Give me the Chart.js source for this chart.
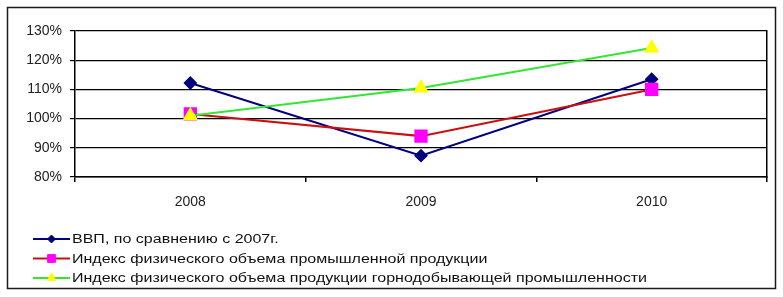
<!DOCTYPE html>
<html>
<head>
<meta charset="utf-8">
<script src="https://cdn.jsdelivr.net/npm/chart.js@4"></script>
<style>
  html, body { margin: 0; padding: 0; background: #fff; }
  #wrap { width: 783px; height: 297px; }
</style>
</head>
<body>
<div id="wrap"><canvas id="growthChart" width="783" height="297"></canvas></div>
<script>
// years on the x axis
const years = ['2008', '2009', '2010'];
// values in percent
const gdp = [112.2, 87.3, 113.5];
const industry = [101.6, 94.0, 110.0];
const mining = [101.0, 110.5, 124.2];
const seriesNames = [
    'ВВП, по сравнению с 2007г.',
    'Индекс физического объема промышленной продукции',
    'Индекс физического объема продукции горнодобывающей промышленности'
];
const yTicks = [80, 90, 100, 110, 120, 130];

const FONT = '"Liberation Sans", Arial, sans-serif';

// outer frame round the whole chart
const framePlugin = {
    id: 'frame',
    beforeDraw(chart) {
        const ctx = chart.ctx;
        ctx.save();
        ctx.fillStyle = '#fff';
        ctx.fillRect(0, 0, chart.width, chart.height);
        ctx.strokeStyle = '#1a1a1a';
        ctx.lineWidth = 1.5;
        ctx.strokeRect(7.5, 7.5, chart.width - 15, chart.height - 16);
        ctx.restore();
    }
};

// excel-like legend: line with marker, one series per row
const legendPlugin = {
    id: 'rowLegend',
    afterDraw(chart) {
        const ctx = chart.ctx;
        const top = chart.scales.x.bottom + 12;
        ctx.save();
        ctx.font = '12px ' + FONT;
        let longest = 0;
        chart.data.datasets.forEach(ds => {
            longest = Math.max(longest, ctx.measureText(ds.label).width);
        });
        const sx = 575 / longest;
        chart.data.datasets.forEach((ds, i) => {
            const y = top + i * 19.5;
            ctx.strokeStyle = ds.borderColor;
            ctx.lineWidth = 2;
            ctx.beginPath();
            ctx.moveTo(33, y);
            ctx.lineTo(70, y);
            ctx.stroke();
            ctx.fillStyle = ds.pointBackgroundColor;
            ctx.strokeStyle = ds.pointBorderColor;
            ctx.lineWidth = 1;
            Chart.helpers.drawPoint(ctx, {
                pointStyle: ds.pointStyle,
                rotation: 0,
                radius: ds.legendRadius,
                borderWidth: 1
            }, 51.5, y);
            ctx.save();
            ctx.translate(72, y);
            ctx.scale(sx, 1);
            ctx.fillStyle = '#111';
            ctx.textBaseline = 'middle';
            ctx.textAlign = 'left';
            ctx.fillText(ds.label, 0, 1);
            ctx.restore();
        });
        ctx.restore();
    }
};

const ctx = document.getElementById('growthChart').getContext('2d');
new Chart(ctx, {
    type: 'line',
    data: {
        labels: years,
        datasets: [{
            label: seriesNames[0],
            data: gdp,
            borderColor: '#000080',
            borderWidth: 2,
            pointStyle: 'rectRot',
            pointRadius: 5.5,
            pointBackgroundColor: '#000080',
            pointBorderColor: '#000080',
            legendRadius: 4,
            order: 2
        }, {
            label: seriesNames[1],
            data: industry,
            borderColor: '#c81010',
            borderWidth: 2,
            pointStyle: 'rect',
            pointRadius: 8,
            pointBackgroundColor: '#ff00ff',
            pointBorderColor: '#ff00ff',
            legendRadius: 5.5,
            order: 1
        }, {
            label: seriesNames[2],
            data: mining,
            borderColor: '#33e633',
            borderWidth: 2,
            pointStyle: 'triangle',
            pointRadius: 7,
            pointBackgroundColor: '#ffff00',
            pointBorderColor: '#ffff00',
            legendRadius: 5,
            order: 0
        }]
    },
    options: {
        responsive: false,
        animation: false,
        events: [],
        layout: {
            padding: { left: 15, right: 16, top: 31, bottom: 70 }
        },
        plugins: {
            legend: { display: false },
            tooltip: { enabled: false }
        },
        scales: {
            x: {
                offset: true,
                grid: {
                    offset: true,
                    drawOnChartArea: false,
                    drawTicks: true,
                    tickLength: 5,
                    color: '#000',
                    lineWidth: 1.5
                },
                border: { display: true, color: '#000', width: 1.5 },
                ticks: {
                    color: '#222',
                    padding: 12,
                    font: { family: FONT, size: 14 }
                },
                afterFit: scale => { scale.height = 50; }
            },
            y: {
                min: 80,
                max: 130,
                afterBuildTicks: scale => {
                    scale.ticks = yTicks.map(v => ({ value: v }));
                },
                ticks: {
                    color: '#222',
                    padding: 8,
                    font: { family: FONT, size: 14 },
                    callback: v => v + '%'
                },
                grid: {
                    color: '#000',
                    lineWidth: 1.2,
                    tickLength: 5
                },
                border: { display: true, color: '#000', width: 1.5 },
                afterFit: scale => { scale.width = 60; }
            },
            yRight: {
                position: 'right',
                min: 80,
                max: 130,
                ticks: { display: false },
                grid: { drawOnChartArea: false, drawTicks: false },
                border: { display: true, color: '#000', width: 1.5 },
                afterFit: scale => { scale.width = 0; }
            }
        }
    },
    plugins: [framePlugin, legendPlugin]
});
</script>
</body>
</html>
